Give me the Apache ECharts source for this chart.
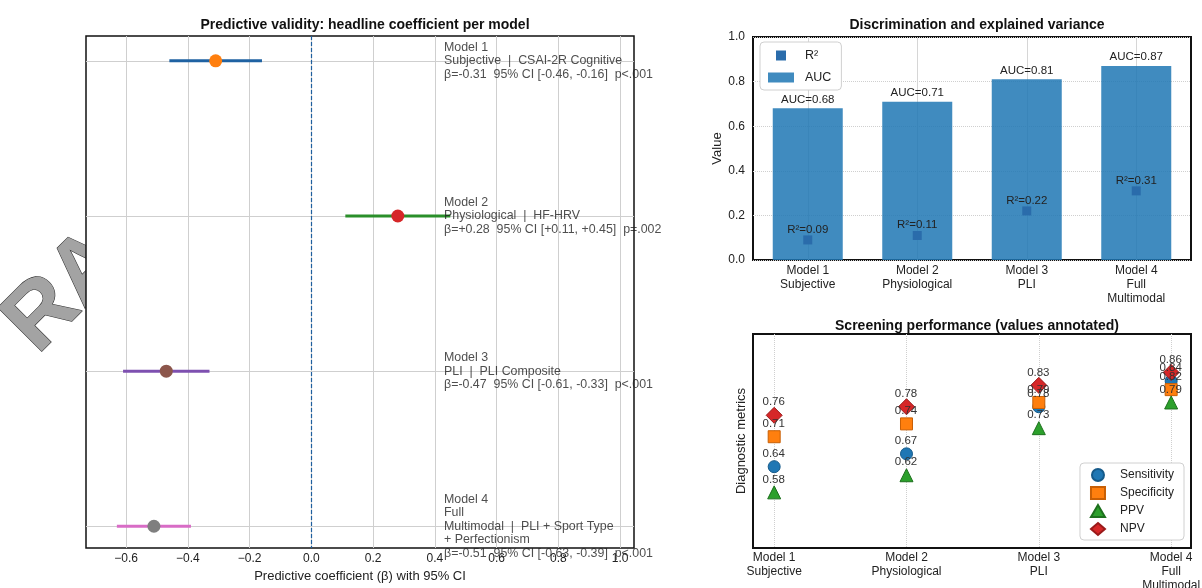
<!DOCTYPE html>
<html>
<head>
<meta charset="utf-8">
<script src="https://cdn.jsdelivr.net/npm/echarts@6/dist/echarts.min.js"></script>
<style>
  html, body { margin: 0; padding: 0; background: #fff; }
  #chart { width: 1202px; height: 588px; }
</style>
</head>
<body>
<div id="chart"></div>
<script>
// model labels (shared by all three panels)
const models = ['Model 1\nSubjective', 'Model 2\nPhysiological', 'Model 3\nPLI', 'Model 4\nFull\nMultimodal'];

// forest plot: headline coefficient per model
const predictors = ['CSAI-2R Cognitive', 'HF-HRV', 'PLI Composite', 'PLI + Sport Type\n+ Perfectionism'];
const beta = [-0.31, 0.28, -0.47, -0.51];
const ciLow = [-0.46, 0.11, -0.61, -0.63];
const ciHigh = [-0.16, 0.45, -0.33, -0.39];
const pText = ['p<.001', 'p=.002', 'p<.001', 'p<.001'];
const betaTicks = [-0.6, -0.4, -0.2, 0.0, 0.2, 0.4, 0.6, 0.8, 1.0];

// discrimination / explained variance
const auc = [0.68, 0.71, 0.81, 0.87];
const r2 = [0.09, 0.11, 0.22, 0.31];

// screening performance
const sensitivity = [0.64, 0.67, 0.78, 0.84];
const specificity = [0.71, 0.74, 0.79, 0.82];
const ppv = [0.58, 0.62, 0.73, 0.79];
const npv = [0.76, 0.78, 0.83, 0.86];

const modelIdx = [0, 1, 2, 3];
const ciColors = ['#1f62a2', '#2a8f2a', '#7e50b0', '#d86cc6'];
const dotColors = ['#ff7f0e', '#d62728', '#8c564b', '#7f7f7f'];
const FONT = '"Liberation Sans", Arial, Helvetica, sans-serif';
const TXT = '#222';

const chart = echarts.init(document.getElementById('chart'));

const fmt = v => (v > 0 ? '+' : '') + v.toFixed(2);
const minus = v => v.toFixed(1).replace('-', '\u2212');

const forestText = modelIdx.map(i =>
  models[i] + '  |  ' + predictors[i] + '\n' +
  '\u03b2=' + fmt(beta[i]) + '  95% CI [' + fmt(ciLow[i]) + ', ' + fmt(ciHigh[i]) + ']  ' + pText[i]);

const ciSeries = modelIdx.map(i => ({
  type: 'line', xAxisIndex: 0, yAxisIndex: 0, silent: true,
  data: [[ciLow[i], i], [ciHigh[i], i]],
  symbol: 'none', lineStyle: { color: ciColors[i], width: 3 }, z: 3
}));

const tickLbl = { fontFamily: FONT, fontSize: 12, color: TXT };

const option = {
  animation: false,
  backgroundColor: '#fff',
  textStyle: { fontFamily: FONT },
  title: [
    { text: 'Predictive validity: headline coefficient per model', left: 360, top: 13, textAlign: 'center',
      textStyle: { fontSize: 14, fontWeight: 'bold', color: '#111', fontFamily: FONT } },
    { text: 'Discrimination and explained variance', left: 972, top: 13, textAlign: 'center',
      textStyle: { fontSize: 14, fontWeight: 'bold', color: '#111', fontFamily: FONT } },
    { text: 'Screening performance (values annotated)', left: 972, top: 314, textAlign: 'center',
      textStyle: { fontSize: 14, fontWeight: 'bold', color: '#111', fontFamily: FONT } }
  ],
  graphic: [
    // faint watermark letters peeking out left of the forest plot
    { type: 'text', z: -100, x: 20, y: 338, rotation: Math.PI / 4,
      style: { text: 'RA', font: 'bold 90px ' + FONT, fill: '#a3a3a3',
               stroke: '#333', lineWidth: 1.2, verticalAlign: 'middle', align: 'left' } }
  ],
  grid: [
    { left: 86, top: 36, width: 548, height: 512, outerBoundsMode: 'none',
      show: true, backgroundColor: '#fff', borderColor: '#111', borderWidth: 1.5 },
    { left: 753, top: 37, width: 438, height: 223, outerBoundsMode: 'none',
      show: true, backgroundColor: '#fff', borderColor: '#111', borderWidth: 2 },
    { left: 753, top: 334, width: 438, height: 214, outerBoundsMode: 'none',
      show: true, backgroundColor: '#fff', borderColor: '#111', borderWidth: 2 }
  ],
  xAxis: [
    { gridIndex: 0, type: 'value', min: -0.73, max: 1.045,
      name: 'Predictive coefficient (\u03b2) with 95% CI', nameLocation: 'middle', nameGap: 21,
      nameTextStyle: { fontFamily: FONT, fontSize: 13, color: TXT },
      axisLine: { show: false }, axisTick: { show: false, customValues: betaTicks },
      axisLabel: { customValues: betaTicks, formatter: minus, margin: 5, ...tickLbl },
      splitLine: { show: true, lineStyle: { color: '#cfcfcf', width: 1 } } },
    { gridIndex: 1, type: 'value', min: -0.5, max: 3.5,
      axisLine: { show: false }, axisTick: { show: false, customValues: modelIdx },
      axisLabel: { customValues: modelIdx, formatter: v => models[Math.round(v)], margin: 4, lineHeight: 14, ...tickLbl },
      splitLine: { show: true, lineStyle: { color: '#d6d6d6', width: 1 } } },
    { gridIndex: 2, type: 'value', min: -0.16, max: 3.15,
      axisLine: { show: false }, axisTick: { show: false, customValues: modelIdx },
      axisLabel: { customValues: modelIdx, formatter: v => models[Math.round(v)], margin: 3, lineHeight: 14, ...tickLbl },
      splitLine: { show: true, lineStyle: { color: '#cfcfcf', width: 1, type: 'dotted' } } }
  ],
  yAxis: [
    { gridIndex: 0, type: 'value', inverse: true, min: -0.16, max: 3.14,
      axisLine: { show: false }, axisTick: { show: false, customValues: modelIdx },
      axisLabel: { show: false, customValues: modelIdx },
      splitLine: { show: true, lineStyle: { color: '#cfcfcf', width: 1 } } },
    { gridIndex: 1, type: 'value', min: 0, max: 1, interval: 0.2,
      name: 'Value', nameLocation: 'middle', nameGap: 28,
      nameTextStyle: { fontFamily: FONT, fontSize: 13, color: TXT },
      axisLine: { show: false }, axisTick: { show: false },
      axisLabel: { formatter: v => v.toFixed(1), margin: 8, ...tickLbl },
      splitLine: { show: true, lineStyle: { color: '#cfcfcf', width: 1, type: 'dotted' } } },
    { gridIndex: 2, type: 'value', min: 0.45, max: 0.95,
      name: 'Diagnostic metrics', nameLocation: 'middle', nameGap: 5,
      nameTextStyle: { fontFamily: FONT, fontSize: 13, color: TXT },
      axisLine: { show: false }, axisTick: { show: false },
      axisLabel: { show: false }, splitLine: { show: false } }
  ],
  legend: [
    { orient: 'vertical', left: 760, top: 42, itemWidth: 26, itemHeight: 10, itemGap: 9,
      padding: [7, 10, 6, 8], borderColor: '#d0d0d0', borderWidth: 1, borderRadius: 4, backgroundColor: '#fff',
      textStyle: { fontFamily: FONT, fontSize: 12.5, color: TXT, padding: [0, 0, 0, 6] },
      data: [
        { name: 'R\u00b2', icon: 'path://M0,0h10v10h-10z' },
        { name: 'AUC', icon: 'rect' }
      ] },
    { orient: 'vertical', right: 18, top: 463, itemWidth: 14, itemHeight: 12, itemGap: 4,
      padding: [5, 10, 4, 10], borderColor: '#d0d0d0', borderWidth: 1, borderRadius: 4, backgroundColor: '#fff',
      textStyle: { fontFamily: FONT, fontSize: 12, color: TXT, padding: [0, 0, 0, 10] },
      data: ['Sensitivity', 'Specificity', 'PPV', 'NPV'] }
  ],
  series: [
    ...ciSeries,
    { type: 'scatter', xAxisIndex: 0, yAxisIndex: 0, symbolSize: 13, z: 4, silent: true,
      data: beta.map((b, i) => ({ value: [b, i], itemStyle: { color: dotColors[i], opacity: 1 } })),
      markLine: { silent: true, symbol: 'none', label: { show: false },
        lineStyle: { color: '#1f5f9e', type: [4, 2], width: 1.2 }, data: [{ xAxis: 0 }] } },
    { type: 'scatter', xAxisIndex: 0, yAxisIndex: 0, symbolSize: 1, silent: true, z: 6,
      itemStyle: { color: 'rgba(0,0,0,0)' },
      data: modelIdx.map(i => [0.428, i]),
      label: { show: true, position: 'right', distance: 0, align: 'left', verticalAlign: 'middle',
        fontFamily: FONT, fontSize: 12.4, lineHeight: 13.4, color: '#222',
        formatter: p => forestText[p.dataIndex] } },

    // bars + R² markers
    { name: 'AUC', type: 'bar', xAxisIndex: 1, yAxisIndex: 1, barWidth: 70,
      data: modelIdx.map(i => [i, auc[i]]),
      itemStyle: { color: 'rgba(31,119,180,0.85)' },
      label: { show: true, position: 'top', distance: 3, fontFamily: FONT, fontSize: 11.5, color: TXT,
        formatter: p => 'AUC=' + auc[p.dataIndex].toFixed(2) } },
    { name: 'R\u00b2', type: 'scatter', xAxisIndex: 1, yAxisIndex: 1, symbol: 'rect', symbolSize: 9, z: 4,
      data: modelIdx.map(i => [i, r2[i]]),
      itemStyle: { color: '#2a6cab', opacity: 1 },
      label: { show: true, position: 'top', distance: 0, fontFamily: FONT, fontSize: 11.5, color: TXT,
        formatter: p => 'R\u00b2=' + r2[p.dataIndex].toFixed(2) } },

    // screening metrics (value text sits a fixed 12.5 px above each marker centre)
    ...[
      ['Sensitivity', sensitivity, 'circle', 12, '#1f77b4', '#155a8a'],
      ['Specificity', specificity, 'rect', 12, '#ff7f0e', '#c85f05'],
      ['PPV', ppv, 'triangle', 13, '#2ca02c', '#1d701d'],
      ['NPV', npv, 'diamond', 16, '#d62728', '#9a1a1a']
    ].map(([name, vals, sym, size, col, edge]) => ({
      name, type: 'scatter', xAxisIndex: 2, yAxisIndex: 2, symbol: sym, symbolSize: size,
      data: modelIdx.map(i => [i, vals[i]]),
      itemStyle: { color: col, borderColor: edge, borderWidth: 1, opacity: 1 },
      label: { show: true, position: [size / 2, size / 2 - 12.5], align: 'center', verticalAlign: 'middle',
        fontFamily: FONT, fontSize: 11.5, color: '#333',
        formatter: p => vals[p.dataIndex].toFixed(2) }
    }))
  ]
};

chart.setOption(option);
</script>
</body>
</html>
